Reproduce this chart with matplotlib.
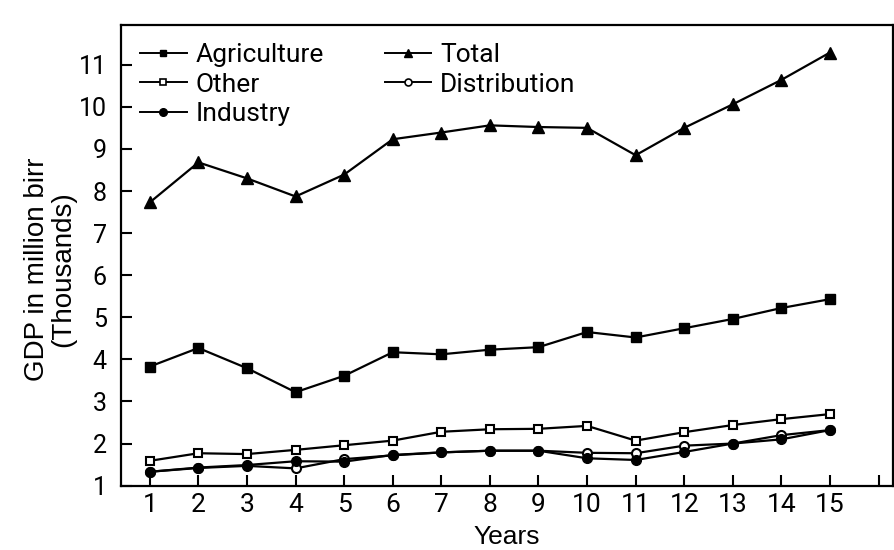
import matplotlib
matplotlib.use('Agg')
import numpy as np
import matplotlib.pyplot as plt
from matplotlib.lines import Line2D

# Data (GDP, million birr, thousands)
years = list(range(1, 16))
agriculture = [3.83, 4.27, 3.79, 3.22, 3.61, 4.17, 4.12, 4.23, 4.29, 4.65, 4.52, 4.74, 4.96, 5.22, 5.43]
total = [7.73, 8.68, 8.30, 7.87, 8.39, 9.23, 9.39, 9.56, 9.52, 9.50, 8.85, 9.50, 10.06, 10.64, 11.29]
other = [1.59, 1.77, 1.75, 1.85, 1.96, 2.07, 2.28, 2.34, 2.35, 2.42, 2.07, 2.27, 2.44, 2.58, 2.70]
distribution = [1.33, 1.42, 1.47, 1.41, 1.63, 1.72, 1.79, 1.83, 1.83, 1.78, 1.77, 1.95, 2.00, 2.20, 2.32]
industry = [1.33, 1.43, 1.49, 1.58, 1.57, 1.73, 1.79, 1.83, 1.83, 1.65, 1.61, 1.80, 2.00, 2.10, 2.32]

yticks = list(range(1, 12))
xticks = list(range(1, 17))
xticklabels = [str(i) for i in range(1, 16)] + ['']

tick_font = ['Roboto', 'DejaVu Sans']
label_font = ['Liberation Sans', 'DejaVu Sans']

fig = plt.figure(figsize=(8.94, 5.5), dpi=100)
ax = fig.add_axes([0.135, 0.117, 0.864, 0.838])

lw = 1.6
ax.plot(years, total, '-', color='black', lw=lw, marker='^', ms=8, mfc='black', mec='black', zorder=3)
ax.plot(years, agriculture, '-', color='black', lw=lw, marker='s', ms=6.5, mfc='black', mec='black', zorder=3)
ax.plot(years, other, '-', color='black', lw=lw, marker='s', ms=6, mfc='white', mec='black', mew=1.5, zorder=3)
ax.plot(years, distribution, '-', color='black', lw=lw, marker='o', ms=6.5, mfc='white', mec='black', mew=1.5, zorder=3)
ax.plot(years, industry, '-', color='black', lw=lw, marker='o', ms=7, mfc='black', mec='black', zorder=4)

ax.set_xlim(0.4, 16.3)
ax.set_ylim(1, 11.95)
ax.set_xticks(xticks)
ax.set_xticklabels(xticklabels)
ax.set_yticks(yticks)

for s in ax.spines.values():
    s.set_linewidth(1.6)

ax.tick_params(axis='both', direction='in', length=8, width=1.5, color='black')
ax.tick_params(axis='x', pad=5)
ax.tick_params(axis='y', pad=10)
for t in ax.get_xticklabels():
    t.set_family(tick_font)
    t.set_fontsize(19)
for t in ax.get_yticklabels():
    t.set_family(tick_font)
    t.set_fontsize(18)

ax.set_xlabel('Years', family=label_font, fontsize=19, labelpad=6)
ax.set_ylabel('GDP in million birr\n(Thousands)', family=label_font, fontsize=20,
              linespacing=1.0)
ax.yaxis.set_label_coords(-0.058, 0.47)

handles = [
    Line2D([], [], color='black', lw=1.4, marker='s', ms=5, mfc='black'),
    Line2D([], [], color='black', lw=1.4, marker='s', ms=5, mfc='white', mew=1.2),
    Line2D([], [], color='black', lw=1.4, marker='o', ms=5.5, mfc='black'),
    Line2D([], [], color='black', lw=1.4, marker='^', ms=5.5, mfc='black'),
    Line2D([], [], color='black', lw=1.4, marker='o', ms=5, mfc='white', mew=1.2),
]
labels = ['Agriculture', 'Other', 'Industry', 'Total', 'Distribution']
leg = ax.legend(handles, labels, ncol=2, loc='upper left', bbox_to_anchor=(0.005, 0.995),
                frameon=False, handlelength=1.75, handletextpad=0.35, labelspacing=0.22,
                columnspacing=2.3, borderaxespad=0.2,
                prop={'family': tick_font, 'size': 19})

fig.savefig('out.png', dpi=100)
